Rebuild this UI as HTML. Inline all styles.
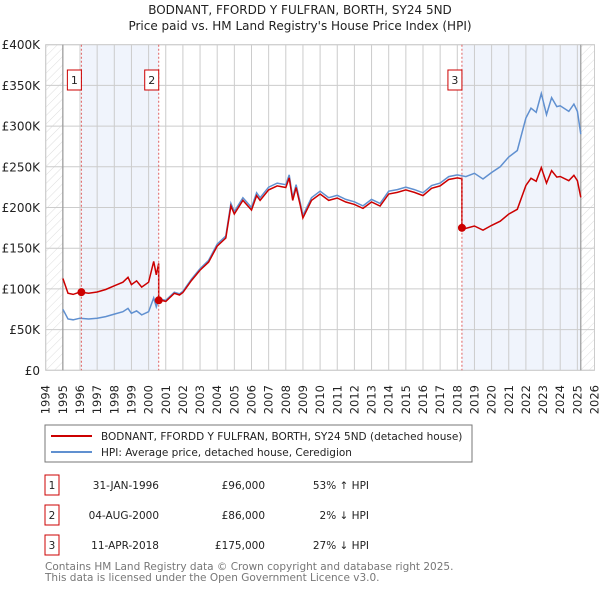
<!DOCTYPE html>
<html><head><meta charset="utf-8"><style>
body{margin:0;background:#fff;width:600px;height:590px;overflow:hidden;font-family:"DejaVu Sans","Liberation Sans",sans-serif;}
svg{position:absolute;left:0;top:0}
</style></head><body>
<svg id="c" width="600" height="590">
<defs><pattern id="hatch" width="6" height="6" patternUnits="userSpaceOnUse" patternTransform="rotate(45)"><line x1="0" y1="0" x2="0" y2="6" stroke="#ddd" stroke-width="1"/></pattern></defs>
<text x="300" y="14" text-anchor="middle" font-size="12" fill="#222">BODNANT, FFORDD Y FULFRAN, BORTH, SY24 5ND</text>
<text x="300" y="30" text-anchor="middle" font-size="12" fill="#222">Price paid vs. HM Land Registry's House Price Index (HPI)</text>
<g id="grid"></g><g id="marks"></g><g id="axes"></g>
<rect x="45" y="425" width="427" height="37" fill="#fff" stroke="#777"/>
<line x1="51" y1="436" x2="92" y2="436" stroke="#cc0000" stroke-width="2"/>
<text x="101" y="440" font-size="10.5" fill="#222">BODNANT, FFORDD Y FULFRAN, BORTH, SY24 5ND (detached house)</text>
<line x1="51" y1="452" x2="92" y2="452" stroke="#6090d0" stroke-width="2"/>
<text x="101" y="456" font-size="10.5" fill="#222">HPI: Average price, detached house, Ceredigion</text>
<g id="table" font-size="10.5" fill="#222"></g>
<text x="45" y="570" font-size="10.5" fill="#777">Contains HM Land Registry data © Crown copyright and database right 2025.</text>
<text x="45" y="581" font-size="10.5" fill="#777">This data is licensed under the Open Government Licence v3.0.</text>
</svg>
<script>
const yTicks=[0,50,100,150,200,250,300,350,400];
const yTickLabels=["£0","£50K","£100K","£150K","£200K","£250K","£300K","£350K","£400K"];
const years=[1994,1995,1996,1997,1998,1999,2000,2001,2002,2003,2004,2005,2006,2007,2008,2009,2010,2011,2012,2013,2014,2015,2016,2017,2018,2019,2020,2021,2022,2023,2024,2025,2026];
const hpiT=[1995.0,1995.3,1995.6,1996.0,1996.5,1997.0,1997.5,1998.0,1998.5,1998.8,1999.0,1999.3,1999.6,2000.0,2000.3,2000.45,2000.6,2001.0,2001.5,2001.8,2002.0,2002.5,2003.0,2003.5,2004.0,2004.5,2004.8,2005.0,2005.5,2006.0,2006.3,2006.5,2007.0,2007.5,2008.0,2008.2,2008.4,2008.6,2008.85,2009.0,2009.5,2010.0,2010.5,2011.0,2011.5,2012.0,2012.5,2013.0,2013.5,2014.0,2014.5,2015.0,2015.5,2016.0,2016.5,2017.0,2017.5,2018.0,2018.5,2019.0,2019.5,2020.0,2020.5,2021.0,2021.5,2022.0,2022.3,2022.6,2022.9,2023.2,2023.5,2023.8,2024.0,2024.5,2024.8,2025.0,2025.2];
const hpiV=[75,63,62,64,63,64,66,69,72,76,70,73,68,72,89,78,88,86,96,94,97,112,125,135,155,165,205,195,212,200,218,212,225,230,228,240,212,228,205,190,212,220,212,215,210,207,202,210,205,220,222,225,222,218,227,230,238,240,238,242,235,243,250,262,270,310,322,317,340,314,335,324,325,318,327,318,290];
const saleT=[1996.08,2000.59,2018.27];
const saleV=[96,86,175];
const saleDates=["31-JAN-1996","04-AUG-2000","11-APR-2018"];
const salePrices=["£96,000","£86,000","£175,000"];
const saleHpi=["53% ↑ HPI","2% ↓ HPI","27% ↓ HPI"];

const X0=45.7,X1=594.5,Y0=370.3,Y1=44.7;
const xs=t=>X0+(t-1994)/32*(X1-X0);
const ys=v=>Y0-v/400*(Y0-Y1);
const NS='http://www.w3.org/2000/svg';
function mk(p,tag,a){const e=document.createElementNS(NS,tag);for(const k in a)e.setAttribute(k,a[k]);p.appendChild(e);return e;}
function hpiAt(t){for(let i=0;i<hpiT.length-1;i++){if(t<=hpiT[i+1]){const f=(t-hpiT[i])/(hpiT[i+1]-hpiT[i]);return hpiV[i]+f*(hpiV[i+1]-hpiV[i]);}}return hpiV[hpiV.length-1];}
const grid=document.getElementById('grid'),marks=document.getElementById('marks'),axes=document.getElementById('axes'),table=document.getElementById('table');
let e;
e=mk(grid,'rect',{x:X0,y:Y1,width:X1-X0,height:Y0-Y1,fill:'#fff',stroke:'#ccc'});


e=mk(grid,'rect',{x:X0,y:Y1,width:xs(1995)-X0,height:Y0-Y1,fill:'url(#hatch)'});


const tEnd=hpiT[hpiT.length-1];
e=mk(grid,'rect',{x:xs(tEnd),y:Y1,width:X1-xs(tEnd),height:Y0-Y1,fill:'url(#hatch)'});


e=mk(grid,'rect',{x:xs(saleT[0]),y:Y1,width:xs(saleT[1])-xs(saleT[0]),height:Y0-Y1,fill:'#f0f4fc'});


e=mk(grid,'rect',{x:xs(saleT[2]),y:Y1,width:xs(tEnd)-xs(saleT[2]),height:Y0-Y1,fill:'#f0f4fc'});


years.forEach(y=>{
 e=mk(grid,'line',{x1:xs(y),x2:xs(y),y1:Y1,y2:Y0,stroke:'#ccc','stroke-width':1});
 
 
 e=mk(axes,'text',{transform:`translate(${xs(y)+4},${Y0+44}) rotate(-90)`,'font-size':11.5,fill:'#222'});
 e.textContent=y;
 
 
});
yTicks.forEach((v,i)=>{
 e=mk(grid,'line',{x1:X0,x2:X1,y1:ys(v),y2:ys(v),stroke:'#ccc','stroke-width':1});
 
 
 e=mk(axes,'text',{x:40,y:ys(v)+4.5,'text-anchor':'end','font-size':12,fill:'#222'});
 e.textContent=yTickLabels[i];
 
 
});
e=mk(grid,'line',{x1:xs(1995),x2:xs(1995),y1:Y1,y2:Y0,stroke:'#999','stroke-width':1.2});


e=mk(grid,'line',{x1:xs(tEnd),x2:xs(tEnd),y1:Y1,y2:Y0,stroke:'#999','stroke-width':1.2});


let d=hpiT.map((t,i)=>(i?'L':'M')+xs(t).toFixed(1)+','+ys(hpiV[i]).toFixed(1)).join('');
e=mk(marks,'path',{d:d,fill:'none',stroke:'#6090d0','stroke-width':1.5});


function ratioAt(t){let k=0;for(let i=0;i<saleT.length;i++)if(t>=saleT[i])k=i;return saleV[k]/hpiAt(saleT[k]);}
let pts=[];
const allT=hpiT.concat(saleT).sort((a,b)=>a-b);
allT.forEach(t=>{
 const si=saleT.indexOf(t);
 if(si>0){pts.push([t,saleV[si-1]/hpiAt(saleT[si-1])*hpiAt(t)]);}
 pts.push([t,ratioAt(t)*hpiAt(t)]);
});
d=pts.map((p,i)=>(i?'L':'M')+xs(p[0]).toFixed(1)+','+ys(p[1]).toFixed(1)).join('');
e=mk(marks,'path',{d:d,fill:'none',stroke:'#cc0000','stroke-width':1.5});


saleT.forEach((t,i)=>{
 e=mk(marks,'line',{x1:xs(t),x2:xs(t),y1:Y1,y2:Y0,stroke:'#e06060','stroke-width':1,'stroke-dasharray':'2,2'});
 
 
 e=mk(marks,'circle',{cx:xs(t),cy:ys(saleV[i]),r:4,fill:'#cc0000'});
 
 
 e=mk(marks,'rect',{x:xs(t)-14,y:70,width:14,height:20,fill:'#fff',stroke:'#cc0000'});
 
 
 e=mk(marks,'text',{x:xs(t)-7,y:84,'text-anchor':'middle','font-size':11,fill:'#222'});
 e.textContent=i+1;
 
 
 const ry=475+i*30;
 e=mk(table,'rect',{x:45,y:ry,width:14,height:20,fill:'#fff',stroke:'#cc0000'});
 
 
 e=mk(table,'text',{x:52,y:ry+14,'text-anchor':'middle'});
 e.textContent=i+1;
 
 
 e=mk(table,'text',{x:159,y:ry+14,'text-anchor':'end'});
 e.textContent=saleDates[i];
 
 
 e=mk(table,'text',{x:265,y:ry+14,'text-anchor':'end'});
 e.textContent=salePrices[i];
 
 
 e=mk(table,'text',{x:369,y:ry+14,'text-anchor':'end'});
 e.textContent=saleHpi[i];
 
 
});
</script>
</body></html>
